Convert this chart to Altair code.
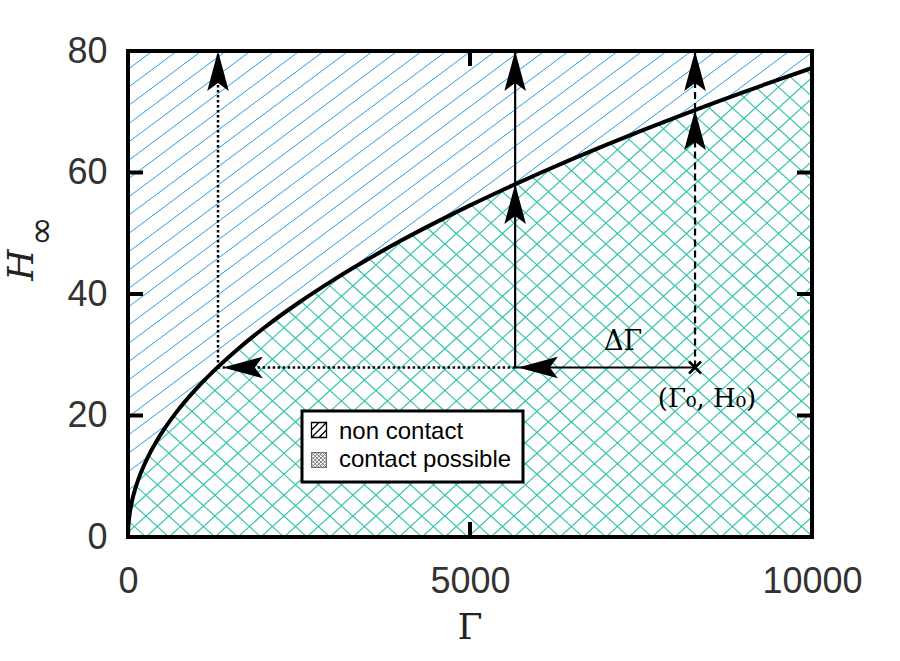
import altair as alt
import numpy as np
import pandas as pd

# ---------------- data ----------------
gamma_curve = [0, 5, 10, 20, 30, 50, 75, 100, 150, 200, 300, 400, 500, 700, 1000,
               1300, 1600, 2000, 2500, 3000, 3500, 4000, 4500, 5000, 5500, 6000,
               6500, 7000, 7500, 8000, 8500, 9000, 9500, 10000]
h_curve = [0, 1.73, 2.44, 3.45, 4.23, 5.46, 6.69, 7.72, 9.45, 10.92, 13.37, 15.44,
           17.26, 20.43, 24.41, 27.84, 30.88, 34.53, 38.6, 42.28, 45.67, 48.83,
           51.79, 54.59, 57.25, 59.80, 62.24, 64.59, 66.86, 69.05, 71.18, 73.24,
           75.25, 77.2]

gamma0 = 8290        # Γ0
h0 = 27.9            # H0
gamma_shift = 5660   # Γ0 - ΔΓ
gamma_c = 1316       # curve reaches H0
h_shift_c = 58.1     # curve height at Γ0 - ΔΓ
h0_c = 70.3          # curve height at Γ0
h_top = 80
gamma_max = 10000

x_ticks = [0, 5000, 10000]
y_ticks = [0, 20, 40, 60, 80]
inner_x_ticks = [5000]
inner_y_ticks = [20, 40, 60]
legend_labels = ["non contact", "contact possible"]
delta_label = "ΔΓ"
delta_pos = [7237, 32.1]
point_label = "(Γ₀, H₀)"
point_pos = [8465, 22.7]

# ---------------- layout / style ----------------
W, HP = 684, 486
BLUE = "#2a9fe0"
GREEN = "#36c4ad"

XS = alt.Scale(domain=[0, gamma_max], nice=False)
YS = alt.Scale(domain=[0, h_top], nice=False)
XAX = alt.Axis(values=x_ticks, format="d", labelFont="Liberation Sans", labelFontSize=36,
               labelColor="#333333", ticks=False, tickSize=0, domain=False,
               grid=False, title=None, labelPadding=44, labelBaseline="middle",
               labelFlush=False)
YAX = alt.Axis(values=y_ticks, format="d", labelFont="Liberation Sans", labelFontSize=36,
               labelColor="#333333", ticks=False, tickSize=0, domain=False,
               grid=False, title=None, labelPadding=21, labelFlush=False)


def X(f="x"):
    return alt.X(f + ":Q", scale=XS, axis=XAX)


def Y(f="y"):
    return alt.Y(f + ":Q", scale=YS, axis=YAX)


def px2x(p):
    return p * gamma_max / W


def py2y(p):
    return p * h_top / HP


# blue single hatch (whole plot, later covered below the curve)
s_b, d_b = 0.747, 24.5
span_b = HP / s_b
blue_rows = []
for b in np.arange(-span_b - d_b, W + d_b, d_b):
    blue_rows.append(dict(x=px2x(b), y=0.0, x2=px2x(b + span_b), y2=float(h_top)))
blue_df = pd.DataFrame(blue_rows)

# green cross hatch, clipped below the curve
gx = np.linspace(0, W, 4 * W + 1)
curve_py = np.interp(gx * gamma_max / W, gamma_curve, h_curve) * HP / h_top
s_g, d_g = 0.91, 23.0
green_rows = []
for sign in (1, -1):
    for b in np.arange(-HP / s_g - d_g, W + HP / s_g + d_g, d_g):
        py = sign * s_g * (gx - b)
        m = (py >= 0) & (py <= curve_py)
        if m.any():
            idx = np.where(m)[0]
            i0, i1 = idx[0], idx[-1]
            green_rows.append(dict(x=px2x(gx[i0]), y=py2y(py[i0]),
                                   x2=px2x(gx[i1]), y2=py2y(py[i1])))
green_df = pd.DataFrame(green_rows)

curve_df = pd.DataFrame({"x": gamma_curve, "y": h_curve})

dotted_df = pd.DataFrame([
    dict(x=gamma_shift, y=h0, x2=gamma_c, y2=h0),
    dict(x=gamma_c, y=h0, x2=gamma_c, y2=h_top),
])
solid_df = pd.DataFrame([
    dict(x=gamma0, y=h0, x2=gamma_shift, y2=h0),
    dict(x=gamma_shift, y=h0, x2=gamma_shift, y2=h_shift_c),
    dict(x=gamma_shift, y=h_shift_c, x2=gamma_shift, y2=h_top),
])
dashed_df = pd.DataFrame([
    dict(x=gamma0, y=h0, x2=gamma0, y2=h0_c),
    dict(x=gamma0, y=h0_c, x2=gamma0, y2=h_top),
])
heads_df = pd.DataFrame([
    dict(x=gamma_c + 70, y=h0, ang=270),
    dict(x=gamma_c, y=h_top, ang=0),
    dict(x=gamma_shift + 40, y=h0, ang=270),
    dict(x=gamma_shift, y=h_shift_c, ang=0),
    dict(x=gamma_shift, y=h_top, ang=0),
    dict(x=gamma0, y=h0_c, ang=0),
    dict(x=gamma0, y=h_top, ang=0),
])
cross_df = pd.DataFrame({"x": [gamma0], "y": [h0]})

ARROW = "M0,0L0.27,1L0,0.8L-0.27,1Z"
CROSS = "M-1,-1L1,1M-1,1L1,-1"
SW1 = "M-1,-1H1V1H-1Z M-1,0L0,-1 M-1,1L1,-1 M0,1L1,0"
SW2 = ("M-1,-1H1V1H-1Z M-1,0L0,-1 M-1,1L1,-1 M0,1L1,0 M-1,-0.5L-0.5,-1 M-1,0.5L0.5,-1 "
       "M-0.5,1L1,-0.5 M0.5,1L1,0.5 M-1,0L0,1 M-1,-1L1,1 M0,-1L1,0 M-1,-0.5L0.5,1 "
       "M-1,0.5L-0.5,1 M-0.5,-1L1,0.5 M0.5,-1L1,-0.5")

one = pd.DataFrame({"k": [0]})

layers = []
layers.append(alt.Chart(blue_df).mark_rule(color=BLUE, strokeWidth=1, clip=True)
              .encode(x=X(), y=Y(), x2="x2:Q", y2="y2:Q"))
layers.append(alt.Chart(curve_df).mark_area(color="white", interpolate="monotone", opacity=1)
              .encode(x=X(), y=Y()))
layers.append(alt.Chart(green_df).mark_rule(color=GREEN, strokeWidth=1.2, clip=True)
              .encode(x=X(), y=Y(), x2="x2:Q", y2="y2:Q"))

# inner ticks
tx = pd.DataFrame({"x": inner_x_ticks})
ty = pd.DataFrame({"y": inner_y_ticks})
layers.append(alt.Chart(tx).mark_rule(color="black", strokeWidth=4)
              .encode(x=X(), y=alt.value(0), y2=alt.value(15)))
layers.append(alt.Chart(tx).mark_rule(color="black", strokeWidth=4)
              .encode(x=X(), y=alt.value(HP - 15), y2=alt.value(HP)))
layers.append(alt.Chart(ty).mark_rule(color="black", strokeWidth=4)
              .encode(y=Y(), x=alt.value(0), x2=alt.value(15)))
layers.append(alt.Chart(ty).mark_rule(color="black", strokeWidth=4)
              .encode(y=Y(), x=alt.value(W - 15), x2=alt.value(W)))

# arrows
layers.append(alt.Chart(dotted_df).mark_rule(color="black", strokeWidth=2.5, strokeDash=[2.5, 2.5])
              .encode(x=X(), y=Y(), x2="x2:Q", y2="y2:Q"))
layers.append(alt.Chart(solid_df).mark_rule(color="black", strokeWidth=2.2)
              .encode(x=X(), y=Y(), x2="x2:Q", y2="y2:Q"))
layers.append(alt.Chart(dashed_df).mark_rule(color="black", strokeWidth=2.2, strokeDash=[7, 4])
              .encode(x=X(), y=Y(), x2="x2:Q", y2="y2:Q"))

# curve
layers.append(alt.Chart(curve_df).mark_line(color="black", strokeWidth=4, interpolate="monotone")
              .encode(x=X(), y=Y()))

# arrowheads
layers.append(alt.Chart(heads_df).mark_point(shape=ARROW, filled=True, color="black",
                                             size=6400, opacity=1, strokeWidth=0)
              .encode(x=X(), y=Y(), angle=alt.Angle("ang:Q", scale=None)))
layers.append(alt.Chart(cross_df).mark_point(shape=CROSS, filled=False, color="black",
                                             size=144, strokeWidth=2.5, opacity=1)
              .encode(x=X(), y=Y()))

# annotations
layers.append(alt.Chart(pd.DataFrame({"x": [delta_pos[0]], "y": [delta_pos[1]], "t": [delta_label]}))
              .mark_text(font="DejaVu Serif", fontSize=27, color="black", baseline="middle")
              .encode(x=X(), y=Y(), text="t:N"))
layers.append(alt.Chart(pd.DataFrame({"x": [point_pos[0]], "y": [point_pos[1]], "t": [point_label]}))
              .mark_text(font="DejaVu Serif", fontSize=26, color="black", baseline="middle")
              .encode(x=X(), y=Y(), text="t:N"))

# legend
layers.append(alt.Chart(one).mark_rect(color="white", stroke="black", strokeWidth=3, opacity=1)
              .encode(x=alt.value(174), x2=alt.value(395), y=alt.value(360), y2=alt.value(431)))
layers.append(alt.Chart(one).mark_point(shape=SW1, filled=False, color="black", size=225,
                                        strokeWidth=1.3, opacity=1)
              .encode(x=alt.value(191), y=alt.value(379)))
layers.append(alt.Chart(one).mark_point(shape=SW2, filled=False, color="#555555", size=225,
                                        strokeWidth=0.8, opacity=1)
              .encode(x=alt.value(191), y=alt.value(409)))
leg_df = pd.DataFrame({"t": legend_labels, "yy": [388, 416]})
layers.append(alt.Chart(leg_df).mark_text(font="Liberation Sans", fontSize=24, color="black",
                                          align="left", baseline="alphabetic")
              .encode(x=alt.value(211), y=alt.Y("yy:Q", scale=None), text="t:N"))

# frame
layers.append(alt.Chart(one).mark_rect(fillOpacity=0, stroke="black", strokeWidth=4)
              .encode(x=alt.value(0), x2=alt.value(W), y=alt.value(0), y2=alt.value(HP)))

# axis titles
layers.append(alt.Chart(one).mark_text(text="Γ", font="DejaVu Serif", fontSize=36,
                                       color="#222222", baseline="middle")
              .encode(x=alt.value(342), y=alt.value(577)))
layers.append(alt.Chart(one).mark_text(text="H", font="DejaVu Serif", fontStyle="italic",
                                       fontSize=36, color="#222222", baseline="middle",
                                       angle=270)
              .encode(x=alt.value(-106), y=alt.value(214)))
layers.append(alt.Chart(one).mark_text(text="∞", font="DejaVu Sans", fontSize=36,
                                       color="#222222", baseline="middle", angle=270)
              .encode(x=alt.value(-86), y=alt.value(180)))

chart = (alt.layer(*layers)
         .properties(width=W, height=HP,
                     padding={"left": 128, "top": 51, "right": 88, "bottom": 124},
                     autosize=alt.AutoSizeParams(type="none"),
                     background="white")
         .configure_view(stroke=None))

chart.save("out.html", embed_options={"renderer": "svg", "actions": False})
